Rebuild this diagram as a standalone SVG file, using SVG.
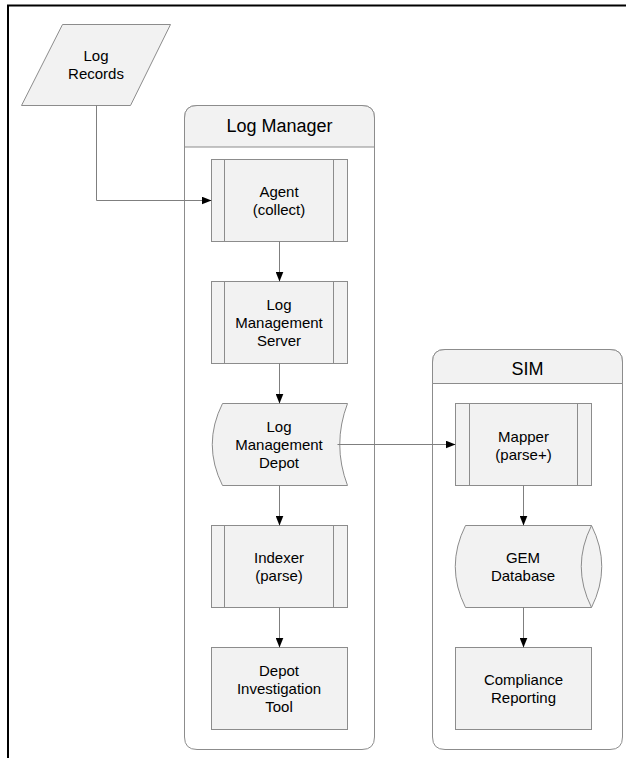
<svg xmlns="http://www.w3.org/2000/svg" width="626" height="758" viewBox="0 0 626 758">
<style>
.bg{fill:#ffffff}
.frame{stroke:#000;stroke-width:2;fill:none}
.cont{fill:#ffffff;stroke:#8c8c8c;stroke-width:1}
.hdr{fill:#f2f2f2;stroke:#8c8c8c;stroke-width:1}
.node{fill:#f2f2f2;stroke:#8c8c8c;stroke-width:1}
.inner{fill:none;stroke:#8c8c8c;stroke-width:1}
.conn{fill:none;stroke:#7f7f7f;stroke-width:1}
text{font-family:"Liberation Sans",Arial,sans-serif;fill:#000;text-anchor:middle}
.t{font-size:15px}
.h{font-size:18px}
</style>
<defs>
<marker id="arr" viewBox="0 0 10 8" refX="10" refY="4" markerWidth="10" markerHeight="8" markerUnits="userSpaceOnUse" orient="auto">
<path d="M0,0 L10,4 L0,8 Z" fill="#000"/>
</marker>
</defs>
<rect class="bg" x="0" y="0" width="626" height="758"/>
<g id="frame">
<line class="frame" x1="7" y1="5.5" x2="626" y2="5.5"/>
<line class="frame" x1="8" y1="5" x2="8" y2="758"/>
</g>
<g id="log-manager">
<path class="cont" d="M184.5,118 Q184.5,105.5 197,105.5 L362,105.5 Q374.5,105.5 374.5,118 L374.5,737 Q374.5,749.5 362,749.5 L197,749.5 Q184.5,749.5 184.5,737 Z"/>
<path class="hdr" d="M184.5,147 L184.5,118 Q184.5,105.5 197,105.5 L362,105.5 Q374.5,105.5 374.5,118 L374.5,147 Z"/>
<text class="h" x="279.5" y="132">Log Manager</text>
</g>
<g id="sim">
<path class="cont" d="M432.5,362 Q432.5,349.5 445,349.5 L610,349.5 Q622.5,349.5 622.5,362 L622.5,737 Q622.5,749.5 610,749.5 L445,749.5 Q432.5,749.5 432.5,737 Z"/>
<path class="hdr" d="M432.5,383.5 L432.5,362 Q432.5,349.5 445,349.5 L610,349.5 Q622.5,349.5 622.5,362 L622.5,383.5 Z"/>
<text class="h" x="527.5" y="375">SIM</text>
</g>
<g id="log-records">
<polygon class="node" points="62.5,24.5 170.5,24.5 130.5,105.5 21.5,105.5"/>
<text class="t" x="96" y="61">Log</text>
<text class="t" x="96" y="79">Records</text>
</g>
<g id="agent">
<rect class="node" x="211.5" y="159.5" width="136" height="82"/>
<line class="inner" x1="224.5" y1="159.5" x2="224.5" y2="241.5"/>
<line class="inner" x1="333.5" y1="159.5" x2="333.5" y2="241.5"/>
<text class="t" x="279" y="197">Agent</text>
<text class="t" x="279" y="215">(collect)</text>
</g>
<g id="log-management-server">
<rect class="node" x="211.5" y="281.5" width="136" height="82"/>
<line class="inner" x1="224.5" y1="281.5" x2="224.5" y2="363.5"/>
<line class="inner" x1="333.5" y1="281.5" x2="333.5" y2="363.5"/>
<text class="t" x="279" y="310">Log</text>
<text class="t" x="279" y="328">Management</text>
<text class="t" x="279" y="346">Server</text>
</g>
<g id="log-management-depot">
<path class="node" d="M222.5,403.5 L347.5,403.5 Q332,444.5 347.5,485.5 L222.5,485.5 Q202,444.5 222.5,403.5 Z"/>
<text class="t" x="279" y="432">Log</text>
<text class="t" x="279" y="450">Management</text>
<text class="t" x="279" y="468">Depot</text>
</g>
<g id="indexer">
<rect class="node" x="211.5" y="525.5" width="136" height="82"/>
<line class="inner" x1="224.5" y1="525.5" x2="224.5" y2="607.5"/>
<line class="inner" x1="333.5" y1="525.5" x2="333.5" y2="607.5"/>
<text class="t" x="279" y="563">Indexer</text>
<text class="t" x="279" y="581">(parse)</text>
</g>
<g id="depot-investigation-tool">
<rect class="node" x="211.5" y="647.5" width="136" height="82"/>
<text class="t" x="279" y="676">Depot</text>
<text class="t" x="279" y="694">Investigation</text>
<text class="t" x="279" y="712">Tool</text>
</g>
<g id="mapper">
<rect class="node" x="455.5" y="403.5" width="136" height="82"/>
<line class="inner" x1="469.5" y1="403.5" x2="469.5" y2="485.5"/>
<line class="inner" x1="577.5" y1="403.5" x2="577.5" y2="485.5"/>
<text class="t" x="523.5" y="442">Mapper</text>
<text class="t" x="523.5" y="460">(parse+)</text>
</g>
<g id="gem-database">
<path class="node" d="M465.5,525.5 L591.5,525.5 Q612,566.5 591.5,607.5 L465.5,607.5 Q445,566.5 465.5,525.5 Z"/>
<path class="inner" d="M591.5,525.5 Q571,566.5 591.5,607.5"/>
<text class="t" x="523" y="563">GEM</text>
<text class="t" x="523" y="581">Database</text>
</g>
<g id="compliance-reporting">
<rect class="node" x="455.5" y="647.5" width="136" height="82"/>
<text class="t" x="523.5" y="685">Compliance</text>
<text class="t" x="523.5" y="703">Reporting</text>
</g>
<g id="connectors">
<path class="conn" d="M96.5,105.5 L96.5,200.5 L211.5,200.5" marker-end="url(#arr)"/>
<path class="conn" d="M279.5,241.5 L279.5,281.5" marker-end="url(#arr)"/>
<path class="conn" d="M279.5,363.5 L279.5,403.5" marker-end="url(#arr)"/>
<path class="conn" d="M279.5,485.5 L279.5,525.5" marker-end="url(#arr)"/>
<path class="conn" d="M279.5,607.5 L279.5,647.5" marker-end="url(#arr)"/>
<path class="conn" d="M337.5,444.5 L455.5,444.5" marker-end="url(#arr)"/>
<path class="conn" d="M523.5,485.5 L523.5,525.5" marker-end="url(#arr)"/>
<path class="conn" d="M523.5,607.5 L523.5,647.5" marker-end="url(#arr)"/>
</g>
</svg>
